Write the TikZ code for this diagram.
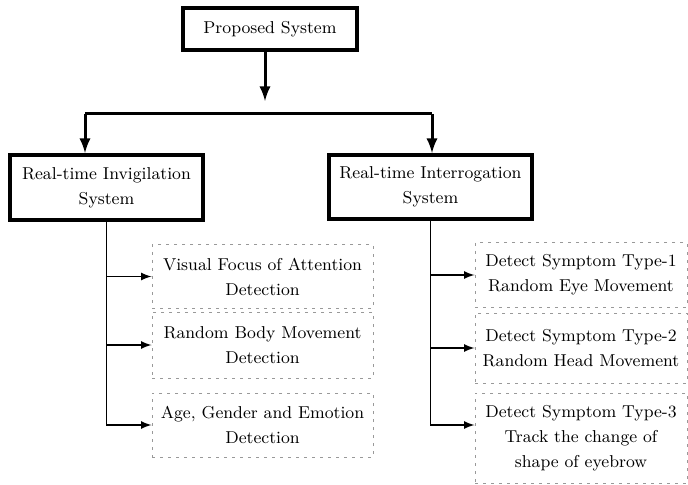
\documentclass[tikz,border=0pt]{standalone}
\usetikzlibrary{positioning}

\tikzset{
  mainbox/.style={draw, line width=2pt, align=center, inner sep=1pt},
  subbox/.style={draw=gray!80, dash pattern=on 1.5pt off 2.5pt, line width=0.5pt,
                 align=center, inner sep=1pt},
  mainlink/.style={line width=1.5pt},
  sublink/.style={->, line width=0.8pt}
}

\begin{document}
\begin{tikzpicture}[x=0.5pt, y=-0.5pt, >=latex, font=\fontsize{8.6}{12.5}\selectfont]
    \useasboundingbox (0,0) rectangle (688,485);
    \node[mainbox, minimum width=87pt, minimum height=21pt] (proposed) at (270,29) {Proposed System};
    \node[mainbox, minimum width=96.5pt, minimum height=32.5pt] (invig) at (106.5,187.5)
         {Real-time Invigilation\\System};
    \node[mainbox, minimum width=101.5pt, minimum height=32pt] (interr) at (430.5,187)
         {Real-time Interrogation\\System};
    \node[subbox, minimum width=110.5pt, minimum height=31.5pt] (vfoa) at (262.5,276.5)
         {Visual Focus of Attention\\Detection};
    \node[subbox, minimum width=110.5pt, minimum height=33pt] (rbm) at (262.5,345)
         {Random Body Movement\\Detection};
    \node[subbox, minimum width=110.5pt, minimum height=32pt] (age) at (262.5,425)
         {Age, Gender and Emotion\\Detection};
    \node[subbox, minimum width=106pt, minimum height=32pt] (sym1) at (581,275)
         {Detect Symptom Type-1\\Random Eye Movement};
    \node[subbox, minimum width=106pt, minimum height=35pt] (sym2) at (581,348)
         {Detect Symptom Type-2\\Random Head Movement};
    \node[subbox, minimum width=106pt, minimum height=45pt] (sym3) at (581,438)
         {Detect Symptom Type-3\\Track the change of\\shape of eyebrow};

    \coordinate (split) at (265,101);
    \coordinate (barL) at (85,114);
    \coordinate (barR) at (432,114);
    \draw[->, mainlink] (proposed.south -| split) -- (split);
    \draw[mainlink] (barL) -- (barR);
    \draw[->, mainlink] (barL) -- (barL |- invig.north);
    \draw[->, mainlink] (barR) -- (barR |- interr.north);

    \foreach \n in {vfoa, rbm, age}
      \draw[sublink] (invig.south) |- (\n);
    \draw[sublink] (interr.south) |- (sym1);
    \draw[sublink] (interr.south) |- (sym2);
    \draw[sublink] (interr.south) |- ([yshift=6.5pt]sym3.west);
\end{tikzpicture}
\end{document}
